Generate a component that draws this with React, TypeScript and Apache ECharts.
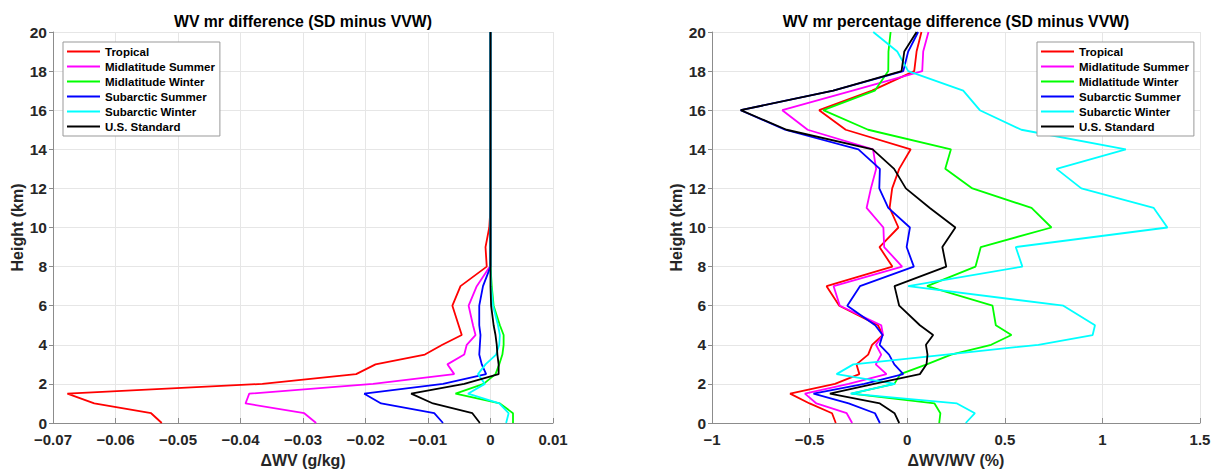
import React, { useEffect, useRef } from "react";
import * as echarts from "echarts";

// Heights (km) of the profile levels
const HEIGHTS = [0, 0.5, 1, 1.5, 2, 2.5, 3, 3.5, 4, 4.5, 5, 6, 7, 8, 9, 10, 11, 12, 13, 14, 15, 16, 17, 18, 19, 20];

const PROFILE_NAMES = ["Tropical", "Midlatitude Summer", "Midlatitude Winter", "Subarctic Summer", "Subarctic Winter", "U.S. Standard"];

// Left panel: WV mr difference (g/kg)
const TROP_ABS = [-0.0526, -0.0543, -0.0634, -0.0677, -0.0365, -0.0215, -0.0184, -0.0105, -0.0077, -0.0046, -0.0051, -0.0061, -0.0048, -0.0006, -0.0008, -0.0002, 0, 0, 0, 0, 0, 0, 0, 0, 0, 0];
const MLS_ABS = [-0.0279, -0.0298, -0.0392, -0.0386, -0.0188, -0.0058, -0.0069, -0.0042, -0.0038, -0.0024, -0.0028, -0.0035, -0.0022, -0.0001, 0, 0, 0, 0, 0, 0, 0, 0, 0, 0, 0, 0];
const MLW_ABS = [0.0036, 0.0036, 0.0015, -0.0056, -0.0011, 0.0008, 0.0014, 0.0019, 0.0021, 0.0021, 0.0015, 0.0005, 0.0002, 0, 0, 0, 0, 0, 0, 0, 0, 0, 0, 0, 0, 0];
const SAS_ABS = [-0.0076, -0.009, -0.0175, -0.0202, -0.0076, -0.0007, -0.0014, -0.0018, -0.0017, -0.0016, -0.0018, -0.0018, -0.0012, 0, 0, 0, 0, 0, 0, 0, 0, 0, 0, 0, 0, 0];
const SAW_ABS = [0.0025, 0.0029, 0.0014, -0.0036, -0.0009, -0.002, -0.0008, 0.0009, 0.0014, 0.0015, 0.0012, 0.0004, 0.0001, 0, 0, 0, 0, 0, 0, 0, 0, 0, 0, 0, 0, 0];
const USS_ABS = [-0.0017, -0.0029, -0.0092, -0.0127, -0.0042, 0.0013, 0.0013, 0.0011, 0.001, 0.0008, 0.0005, 0.0001, 0, 0, 0, 0, 0, 0, 0, 0, 0, 0, 0, 0, 0, 0];

// Right panel: WV mr percentage difference (%)
const TROP_PCT = [-0.366, -0.385, -0.5, -0.6, -0.37, -0.245, -0.26, -0.2, -0.18, -0.125, -0.15, -0.348, -0.413, -0.076, -0.142, -0.045, -0.09, -0.077, -0.041, 0.018, -0.315, -0.451, -0.18, 0.036, 0.048, 0.073];
const MLS_PCT = [-0.282, -0.31, -0.465, -0.524, -0.3, -0.106, -0.161, -0.133, -0.16, -0.124, -0.133, -0.345, -0.377, -0.026, -0.118, -0.122, -0.208, -0.186, -0.159, -0.175, -0.51, -0.64, -0.28, 0.077, 0.082, 0.109];
const MLW_PCT = [0.164, 0.17, 0.14, -0.285, -0.066, -0.035, 0.1, 0.225, 0.43, 0.534, 0.454, 0.437, 0.102, 0.35, 0.377, 0.739, 0.637, 0.334, 0.195, 0.224, -0.2, -0.43, -0.166, -0.097, -0.096, -0.085];
const SAS_PCT = [-0.14, -0.165, -0.3, -0.48, -0.22, -0.02, -0.066, -0.093, -0.141, -0.126, -0.164, -0.307, -0.242, 0.034, -0.003, 0.014, -0.097, -0.143, -0.14, -0.25, -0.626, -0.853, -0.379, -0.02, 0.005, 0.056];
const SAW_PCT = [0.3, 0.347, 0.255, -0.29, -0.062, -0.362, -0.276, 0.2, 0.672, 0.95, 0.962, 0.8, 0.005, 0.59, 0.556, 1.333, 1.263, 0.892, 0.765, 1.12, 0.585, 0.372, 0.287, 0.005, -0.051, -0.174];
const USS_PCT = [-0.041, -0.065, -0.14, -0.396, -0.17, 0.065, 0.099, 0.104, 0.096, 0.133, 0.065, -0.041, -0.065, 0.2, 0.18, 0.247, 0.116, -0.007, -0.067, -0.177, -0.618, -0.853, -0.379, -0.029, -0.015, 0.048];

const ABS_SERIES = [TROP_ABS, MLS_ABS, MLW_ABS, SAS_ABS, SAW_ABS, USS_ABS];
const PCT_SERIES = [TROP_PCT, MLS_PCT, MLW_PCT, SAS_PCT, SAW_PCT, USS_PCT];

const COLORS = ["#ff0000", "#ff00ff", "#00ff00", "#0000ff", "#00ffff", "#000000"];
const FONT = "'Liberation Sans', Arial, Helvetica, sans-serif";
const TICK_COLOR = "#262626";

const minusFmt = (v: number) => {
  const s = String(Math.round(v * 1e6) / 1e6);
  return s.replace("-", "\u2212");
};

function makeXAxis(gridIndex: number, min: number, max: number, interval: number, name: string) {
  return {
    type: "value",
    gridIndex,
    min,
    max,
    interval,
    name,
    nameLocation: "middle",
    nameGap: 29,
    nameTextStyle: { fontFamily: FONT, fontWeight: "bold", fontSize: 16, color: TICK_COLOR },
    axisLine: { show: true, onZero: false, lineStyle: { color: "#8c8c8c", width: 1 } },
    axisTick: { show: true, inside: true, length: 5, lineStyle: { color: "#8c8c8c" } },
    axisLabel: { fontFamily: FONT, fontWeight: "bold", fontSize: 15, color: TICK_COLOR, margin: 9, formatter: minusFmt },
    splitLine: { show: true, lineStyle: { color: "#e6e6e6", width: 1 } },
  };
}

function makeYAxis(gridIndex: number, gap: number) {
  return {
    type: "value",
    gridIndex,
    min: 0,
    max: 20,
    interval: 2,
    name: "Height (km)",
    nameLocation: "middle",
    nameGap: gap,
    nameTextStyle: { fontFamily: FONT, fontWeight: "bold", fontSize: 16, color: TICK_COLOR },
    axisLine: { show: true, onZero: false, lineStyle: { color: "#8c8c8c", width: 1 } },
    axisTick: { show: true, inside: false, length: 4, lineStyle: { color: "#8c8c8c" } },
    axisLabel: { fontFamily: FONT, fontWeight: "bold", fontSize: 15.5, color: TICK_COLOR, margin: 6 },
    splitLine: { show: true, lineStyle: { color: "#e6e6e6", width: 1 } },
  };
}

function makeLegend(left: number) {
  return {
    orient: "vertical",
    left,
    top: 42,
    data: PROFILE_NAMES,
    selectedMode: false,
    icon: "rect",
    itemWidth: 33,
    itemHeight: 2,
    itemGap: 0,
    padding: [2, 5, 2, 4],
    backgroundColor: "#ffffff",
    borderColor: "#999999",
    borderWidth: 1,
    borderRadius: 0,
    textStyle: { fontFamily: FONT, fontWeight: "bold", fontSize: 11.5, color: "#000", lineHeight: 15 },
  };
}

export default function App() {
  const ref = useRef<HTMLDivElement>(null);

  useEffect(() => {
    if (!ref.current) return;
    const chart = echarts.init(ref.current, undefined, { renderer: "svg" });

    const series: any[] = [];
    ABS_SERIES.forEach((vals, i) => {
      series.push({
        type: "line",
        name: PROFILE_NAMES[i],
        xAxisIndex: 0,
        yAxisIndex: 0,
        data: vals.map((v, k) => [v, HEIGHTS[k]]),
        symbol: "none",
        lineStyle: { color: COLORS[i], width: 1.8 },
        itemStyle: { color: COLORS[i] },
      });
    });
    PCT_SERIES.forEach((vals, i) => {
      series.push({
        type: "line",
        name: PROFILE_NAMES[i],
        xAxisIndex: 1,
        yAxisIndex: 1,
        data: vals.map((v, k) => [v, HEIGHTS[k]]),
        symbol: "none",
        lineStyle: { color: COLORS[i], width: 1.8 },
        itemStyle: { color: COLORS[i] },
      });
    });

    chart.setOption({
      animation: false,
      backgroundColor: "#ffffff",
      grid: [
        { left: 53, top: 32, width: 500, height: 396 },
        { left: 712, top: 32, width: 488, height: 396 },
      ],
      xAxis: [
        makeXAxis(0, -0.07, 0.01, 0.01, "\u0394WV (g/kg)"),
        makeXAxis(1, -1, 1.5, 0.5, "\u0394WV/WV (%)"),
      ],
      yAxis: [makeYAxis(0, 24), makeYAxis(1, 28)],
      legend: [makeLegend(63), makeLegend(1037)],
      graphic: [
        {
          type: "text",
          x: 303,
          y: 21,
          style: { text: "WV mr difference (SD minus VVW)", fill: "#000", font: `bold 15.8px ${FONT}`, textAlign: "center", textVerticalAlign: "middle" },
        },
        {
          type: "text",
          x: 956,
          y: 21,
          style: { text: "WV mr percentage difference (SD minus VVW)", fill: "#000", font: `bold 15.8px ${FONT}`, textAlign: "center", textVerticalAlign: "middle" },
        },
      ],
      series,
    });

    return () => chart.dispose();
  }, []);

  return (
    <div
      ref={ref}
      style={{ position: "fixed", left: 0, top: 0, width: 1225, height: 473, background: "#fff" }}
    />
  );
}
